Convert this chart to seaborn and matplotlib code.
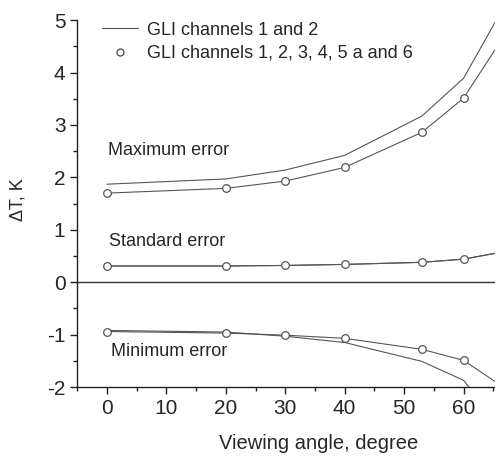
import numpy as np
import pandas as pd
import seaborn as sns
import matplotlib.pyplot as plt
from matplotlib.ticker import MultipleLocator
from matplotlib.lines import Line2D

# viewing angles (deg)
angle_mark = [0, 20, 30, 40, 53, 60, 70]
angle_line = [0, 20, 30, 40, 53, 60, 70]

# GLI channels 1, 2, 3, 4, 5a and 6 (circles)
max_mark = [1.70, 1.79, 1.93, 2.19, 2.86, 3.51, 5.25]
std_mark = [0.31, 0.31, 0.32, 0.34, 0.38, 0.44, 0.65]
min_mark = [-0.94, -0.97, -1.01, -1.07, -1.28, -1.49, -2.25]

# GLI channels 1 and 2 (plain line)
max_line = [1.87, 1.97, 2.14, 2.42, 3.17, 3.89, 5.9]
std_line = [0.31, 0.31, 0.32, 0.34, 0.38, 0.44, 0.65]
min_line = [-0.92, -0.95, -1.03, -1.15, -1.51, -1.87, -3.3]

sns.set_style("ticks")
plt.rcParams['font.family'] = ['Liberation Sans', 'DejaVu Sans']
plt.rcParams['axes.unicode_minus'] = False

fig = plt.figure(figsize=(4.95, 4.57), dpi=100)
ax = fig.add_axes([0.156, 0.153, 0.844, 0.803])

lc = '#555555'
for y in [max_line, std_line, min_line]:
    sns.lineplot(x=angle_line, y=y, ax=ax, color=lc, lw=0.8, sort=False)
for y in [max_mark, std_mark, min_mark]:
    sns.lineplot(x=angle_mark, y=y, ax=ax, color=lc, lw=0.8, sort=False,
                 marker='o', markersize=5.5, markerfacecolor='white',
                 markeredgecolor=lc, markeredgewidth=0.9)

ax.axhline(0, color='#333333', lw=1.0)

ax.set_xlim(-5, 65.3)
ax.set_ylim(-2, 5)
ax.xaxis.set_minor_locator(MultipleLocator(5))
ax.yaxis.set_major_locator(MultipleLocator(1))
ax.yaxis.set_minor_locator(MultipleLocator(0.5))
ax.set_xticks([0, 10, 20, 30, 40, 50, 60])
ax.tick_params(which='major', direction='out', length=5, width=1, labelsize=15, color='#222222')
ax.tick_params(which='minor', direction='out', length=3, width=1, color='#222222')
for s in ['top', 'right']:
    ax.spines[s].set_visible(False)
for s in ['left', 'bottom']:
    ax.spines[s].set_color('#222222')
    ax.spines[s].set_linewidth(1.0)

ax.set_xlabel('Viewing angle, degree', fontsize=14.5)
ax.xaxis.set_label_coords(0.579, -0.128)
ax.set_ylabel('ΔT, K', fontsize=13)
ax.yaxis.set_label_coords(-0.122, 0.51)

ax.text(0.2, 2.52, 'Maximum error', fontsize=13, va='center')
ax.text(0.3, 0.78, 'Standard error', fontsize=13, va='center')
ax.text(0.7, -1.33, 'Minimum error', fontsize=13, va='center')

h1 = Line2D([], [], color=lc, lw=0.8)
h2 = Line2D([], [], color=lc, lw=0, marker='o', markersize=5,
            markerfacecolor='white', markeredgecolor=lc)
ax.legend([h1, h2], ['GLI channels 1 and 2', 'GLI channels 1, 2, 3, 4, 5 a and 6'],
          loc='upper left', bbox_to_anchor=(0.02, 1.04), frameon=False,
          fontsize=13, handlelength=2.0, handletextpad=0.5, labelspacing=0.35)

fig.savefig('out.png', dpi=100)
